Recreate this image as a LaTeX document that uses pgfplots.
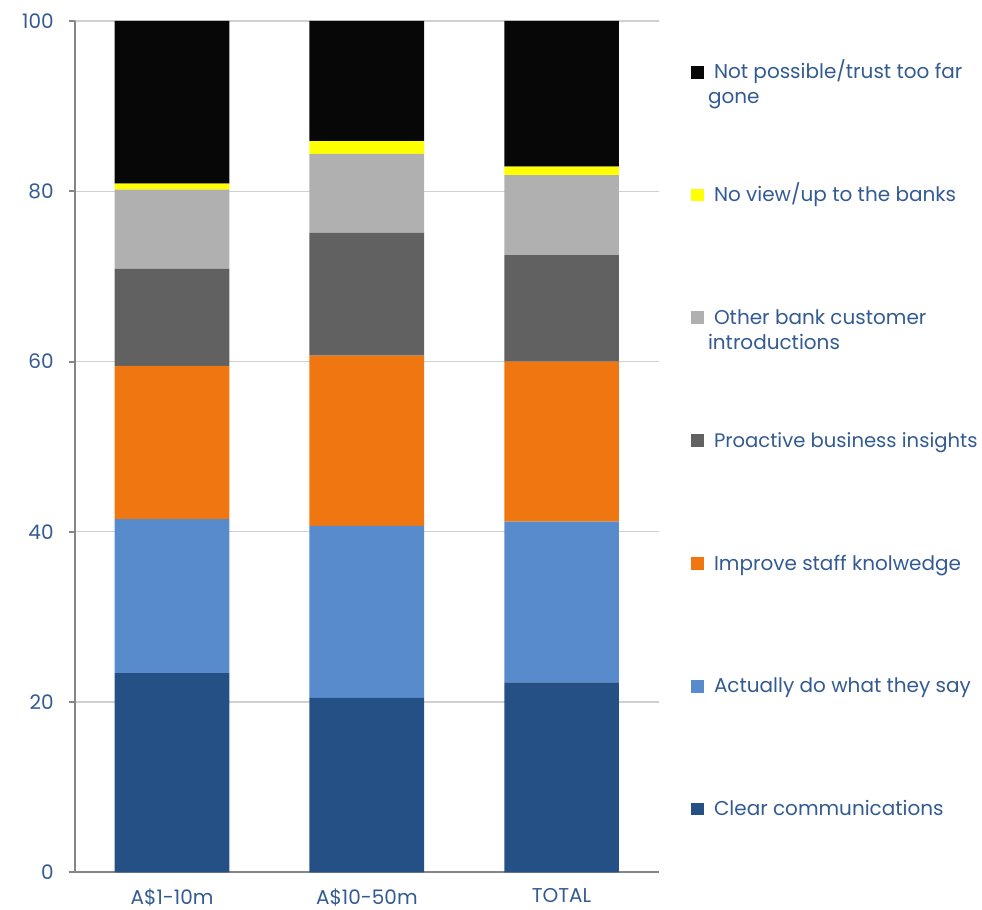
\documentclass[border=0pt]{standalone}
\usepackage{pgfplots}
\pgfplotsset{compat=1.18}
\usepackage{fontspec}
\setmainfont{Poppins}
\definecolor{txt}{HTML}{335B92}
\definecolor{cClear}{HTML}{255086}
\definecolor{cAct}{HTML}{588BCB}
\definecolor{cImp}{HTML}{F07611}
\definecolor{cPro}{HTML}{616161}
\definecolor{cOth}{HTML}{B0B0B0}
\definecolor{cNov}{HTML}{FFFF00}
\definecolor{cNot}{HTML}{070707}
\definecolor{axgray}{HTML}{868686}
\definecolor{gridc}{HTML}{D0D0D0}
\newcommand{\lfont}{\fontsize{10}{12.25}\selectfont}
\begin{document}
\begin{tikzpicture}
\useasboundingbox (0,0) rectangle (491pt,455pt);
\begin{axis}[
  at={(37.35pt,18.85pt)}, anchor=south west,
  scale only axis, width=292.15pt, height=425.65pt,
  ybar stacked, bar width=0.589,
  xmin=-0.5, xmax=2.5, ymin=0, ymax=100,
  xtick=data, xticklabels={A\$1-10m,A\$10-50m,TOTAL},
  ytick={0,20,40,60,80,100},
  axis x line*=bottom, axis y line*=left,
  axis line style={axgray, line width=1pt},
  x axis line style={line width=1.2pt, shorten <=-3pt},
  ymajorgrids, grid style={gridc, line width=0.6pt},
  tick align=outside, major tick length=3pt,
  ytick style={axgray, line width=1pt},
  xtick style={draw=none},
  /pgf/number format/assume math mode=true,
  ticklabel style={font=\lfont, text=txt},
  yticklabel style={xshift=-4pt},
  xticklabel style={yshift=-1.5pt},
  every axis plot/.append style={draw=none},
]
\addplot[fill=cClear] coordinates {(0,23.4) (1,20.5) (2,22.3)};
\addplot[fill=cAct] coordinates {(0,18.1) (1,20.2) (2,18.9)};
\addplot[fill=cImp] coordinates {(0,18.0) (1,20.0) (2,18.8)};
\addplot[fill=cPro] coordinates {(0,11.4) (1,14.4) (2,12.5)};
\addplot[fill=cOth] coordinates {(0,9.3) (1,9.3) (2,9.4)};
\addplot[fill=cNov] coordinates {(0,0.7) (1,1.5) (2,1.0)};
\addplot[fill=cNot] coordinates {(0,19.1) (1,14.1) (2,17.1)};
\end{axis}
% legend
\begin{scope}[every node/.style={anchor=base west, inner sep=0pt, outer sep=0pt, font=\lfont, text=txt}]
\fill[cNot] (345.5pt,415.7pt) rectangle ++(6.35pt,6.35pt);
\node at (357pt,415.5pt) {Not possible/trust too far};
\node at (354pt,403.25pt) {gone};
\fill[cNov] (345.5pt,354.3pt) rectangle ++(6.35pt,6.35pt);
\node at (357pt,354.1pt) {No view/up to the banks};
\fill[cOth] (345.5pt,292.9pt) rectangle ++(6.35pt,6.35pt);
\node at (357pt,292.7pt) {Other bank customer};
\node at (354pt,280.45pt) {introductions};
\fill[cPro] (345.5pt,231.5pt) rectangle ++(6.35pt,6.35pt);
\node at (357pt,231.3pt) {\fontsize{9.8}{12}\selectfont Proactive business insights};
\fill[cImp] (345.5pt,170.1pt) rectangle ++(6.35pt,6.35pt);
\node at (357pt,169.9pt) {Improve staff knolwedge};
\fill[cAct] (345.5pt,108.7pt) rectangle ++(6.35pt,6.35pt);
\node at (357pt,108.5pt) {Actually do what they say};
\fill[cClear] (345.5pt,47.3pt) rectangle ++(6.35pt,6.35pt);
\node at (357pt,47.1pt) {Clear communications};
\end{scope}
\end{tikzpicture}
\end{document}
